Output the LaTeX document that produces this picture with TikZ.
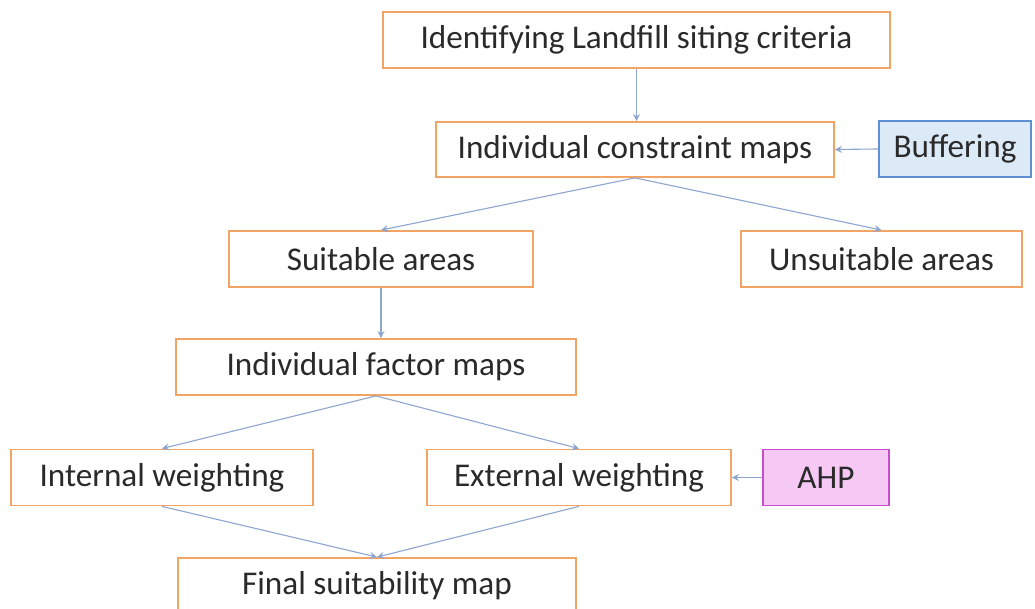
\documentclass[tikz,border=0pt]{standalone}
\usepackage{fontspec}
\setmainfont{Carlito}
\usetikzlibrary{arrows.meta}
\definecolor{boxor}{HTML}{F2A464}
\definecolor{connc}{HTML}{8EA6CF}
\definecolor{txt}{HTML}{2A2A2A}
\definecolor{bufill}{HTML}{DCEAF8}
\definecolor{budraw}{HTML}{5E8FD3}
\definecolor{ahpfill}{HTML}{F6C8F4}
\definecolor{ahpdraw}{HTML}{C94BC9}
\begin{document}
\begin{tikzpicture}[x=1pt,y=1pt,
  stepbox/.style={draw=boxor,line width=1.8pt,fill=white,minimum height=56pt,
    inner sep=0pt,text=txt,font=\fontsize{33.2}{36}\selectfont},
  bufbox/.style={stepbox,draw=budraw,fill=bufill},
  ahpbox/.style={stepbox,draw=ahpdraw,fill=ahpfill},
  link/.style={draw=connc,line width=1.1pt,-{Stealth[length=7pt,width=7pt]}}]
\useasboundingbox (0,0) rectangle (1035,609);
\fill[white] (0,0) rectangle (1035,609);
\node[stepbox,minimum width=507pt] (crit) at (636.5,569) {Identifying Landfill siting criteria};
\node[stepbox,minimum width=398pt,minimum height=55pt] (cons) at (635,459.5) {Individual constraint maps};
\node[bufbox,minimum width=152pt] (buf) at (955,460) {Buffering};
\node[stepbox,minimum width=304pt] (suit) at (381,350) {Suitable areas};
\node[stepbox,minimum width=281pt] (unsuit) at (881.5,350) {Unsuitable areas};
\node[stepbox,minimum width=400pt] (fact) at (376,242) {Individual factor maps};
\node[stepbox,draw=boxor,minimum width=302pt] (intw) at (162,131.5) {Internal weighting};
\node[stepbox,minimum width=304pt] (extw) at (579,131.5) {External weighting};
\node[ahpbox,minimum width=126pt] (ahp) at (826,131.5) {AHP};
\node[stepbox,minimum width=398pt,minimum height=55pt] (final) at (377,23.5) {Final suitability map};
\draw[link] (crit.south) -- (crit.south |- cons.north);
\draw[link] (buf.west) -- (cons.east);
\draw[link] (cons.south) -- (suit.north);
\draw[link] (cons.south) -- (unsuit.north);
\draw[link] (suit.south) -- (suit.south |- fact.north);
\draw[link] (fact.south) -- (intw.north);
\draw[link] (fact.south) -- (extw.north);
\draw[link] (ahp.west) -- (extw.east);
\draw[link] (intw.south) -- (final.north);
\draw[link] (extw.south) -- (final.north);
\end{tikzpicture}
\end{document}
